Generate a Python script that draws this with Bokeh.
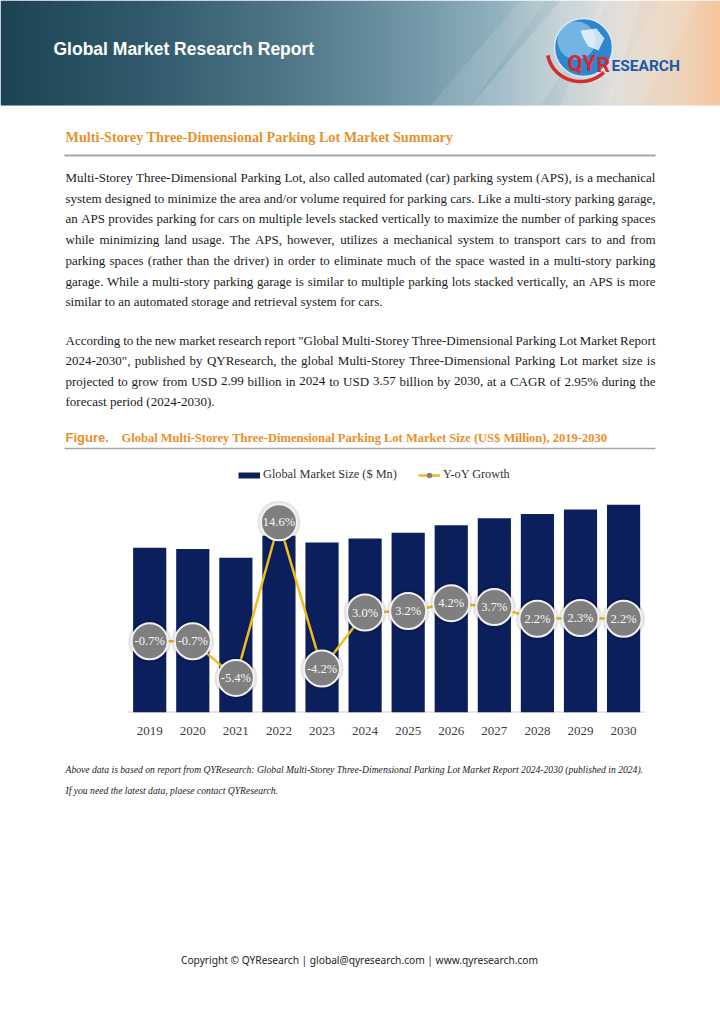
import numpy as np
from bokeh.plotting import figure
from bokeh.models import Range1d, ColumnDataSource, Legend, LegendItem, FixedTicker
from bokeh.layouts import column
from bokeh.core.properties import value
from bokeh.embed import file_html
from bokeh.resources import INLINE

# ---------------- data ----------------
years = ["2019", "2020", "2021", "2022", "2023", "2024",
         "2025", "2026", "2027", "2028", "2029", "2030"]
market_size = [2830, 2810, 2660, 3040, 2920, 2990, 3090, 3220, 3340, 3410, 3490, 3570]
yoy_growth = [-0.7, -0.7, -5.4, 14.6, -4.2, 3.0, 3.2, 4.2, 3.7, 2.2, 2.3, 2.2]
growth_labels = ["-0.7%", "-0.7%", "-5.4%", "14.6%", "-4.2%", "3.0%",
                 "3.2%", "4.2%", "3.7%", "2.2%", "2.3%", "2.2%"]
legend_labels = ["Global Market Size ($ Mn)", "Y-oY Growth"]

header_title = "Global Market Research Report"
section_title = "Multi-Storey Three-Dimensional Parking Lot Market Summary"
para1 = [
    "Multi-Storey Three-Dimensional Parking Lot, also called automated (car) parking system (APS), is a mechanical",
    "system designed to minimize the area and/or volume required for parking cars. Like a multi-story parking garage,",
    "an APS provides parking for cars on multiple levels stacked vertically to maximize the number of parking spaces",
    "while minimizing land usage. The APS, however, utilizes a mechanical system to transport cars to and from",
    "parking spaces (rather than the driver) in order to eliminate much of the space wasted in a multi-story parking",
    "garage. While a multi-story parking garage is similar to multiple parking lots stacked vertically, an APS is more",
    "similar to an automated storage and retrieval system for cars.",
]
para2 = [
    "According to the new market research report \"Global Multi-Storey Three-Dimensional Parking Lot Market Report",
    "2024-2030\", published by QYResearch, the global Multi-Storey Three-Dimensional Parking Lot market size is",
    "projected to grow from USD 2.99 billion in 2024 to USD 3.57 billion by 2030, at a CAGR of 2.95% during the",
    "forecast period (2024-2030).",
]
figure_label = "Figure."
figure_caption = "Global Multi-Storey Three-Dimensional Parking Lot Market Size (US$ Million), 2019-2030"
notes = [
    "Above data is based on report from QYResearch: Global Multi-Storey Three-Dimensional Parking Lot Market Report 2024-2030 (published in 2024).",
    "If you need the latest data, plaese contact QYResearch.",
]
copyright_text = "Copyright \u00a9 QYResearch | global@qyresearch.com | www.qyresearch.com"

# ---------------- styling ----------------
NAVY = "#0b1f5c"
GOLD = "#F2BC1B"
GRAY = "#7f7f7f"
ORANGE = "#E8902C"
TEXT = "#1a1a1a"
SERIF = "Liberation Serif"
PW = 720

# Times-Roman advance widths (1/1000 em) for justification
_TW = {' ': 250, '!': 333, '"': 408, '#': 500, '$': 500, '%': 833, '&': 778, "'": 333,
       '(': 333, ')': 333, '*': 500, '+': 564, ',': 250, '-': 333, '.': 250, '/': 278,
       ':': 278, ';': 278, '?': 444, '@': 921,
       'A': 722, 'B': 667, 'C': 667, 'D': 722, 'E': 611, 'F': 556, 'G': 722, 'H': 722,
       'I': 333, 'J': 389, 'K': 722, 'L': 611, 'M': 889, 'N': 722, 'O': 722, 'P': 556,
       'Q': 722, 'R': 667, 'S': 556, 'T': 611, 'U': 722, 'V': 722, 'W': 944, 'X': 722,
       'Y': 722, 'Z': 611,
       'a': 444, 'b': 500, 'c': 444, 'd': 500, 'e': 444, 'f': 333, 'g': 500, 'h': 500,
       'i': 278, 'j': 278, 'k': 500, 'l': 278, 'm': 778, 'n': 500, 'o': 500, 'p': 500,
       'q': 500, 'r': 333, 's': 389, 't': 278, 'u': 500, 'v': 500, 'w': 722, 'x': 500,
       'y': 500, 'z': 444}


def tw(s):
    return sum(_TW.get(ch, 500) for ch in s) / 1000.0


def page_fig(h, top, bottom):
    p = figure(width=PW, height=h, x_range=Range1d(0, PW), y_range=Range1d(bottom, top),
               x_axis_type=None, y_axis_type=None, toolbar_location=None,
               output_backend="svg", min_border=0)
    p.outline_line_color = None
    p.background_fill_color = "white"
    p.border_fill_color = "white"
    return p


def txt(p, x, y, t, font, size, color, style="normal", align="left"):
    p.text(x=[x], y=[y], text=[t], text_font=value(font), text_font_size=f"{size}px",
           text_color=color, text_font_style=style, text_align=align,
           text_baseline="middle")


def justified(p, lines, y0, step, left=65, right=655, fs=13):
    xs, ys, ts = [], [], []
    for i, line in enumerate(lines):
        words = line.split(" ")
        widths = [tw(w) * fs for w in words]
        last = (i == len(lines) - 1)
        if last or len(words) < 2:
            gap = 0.25 * fs
        else:
            gap = (right - left - sum(widths)) / (len(words) - 1)
        x = left
        for w, wd in zip(words, widths):
            xs.append(x)
            ys.append(y0 + i * step)
            ts.append(w)
            x += wd + gap
    p.text(x=xs, y=ys, text=ts, text_font=value(SERIF), text_font_size=f"{fs}px",
           text_color=TEXT, text_baseline="middle", text_align="left")


# ---------------- top part (header + summary) ----------------
top = page_fig(460, 0, 460)

# banner gradient
stops_x = [0, 150, 300, 420, 500, 560, 620, 680, 720]
stops_c = ["#1c4353", "#315b6d", "#52798a", "#7499a9", "#93b2c0", "#bccbd1",
           "#e0dcd6", "#efd3ba", "#f5c59d"]
rgb = np.array([[int(c[i:i + 2], 16) for i in (1, 3, 5)] for c in stops_c], dtype=float)
edges = np.arange(0, PW + 1, 4)
lefts, rights, cols = [], [], []
for a in edges[:-1]:
    xm = a + 2
    col = [np.interp(xm, stops_x, rgb[:, k]) for k in range(3)]
    lefts.append(a)
    rights.append(a + 4.5)
    cols.append("#%02x%02x%02x" % tuple(int(round(v)) for v in col))
top.quad(left=lefts, right=rights, top=[0] * len(lefts), bottom=[105] * len(lefts),
         fill_color=cols, line_color=None)
# diagonal light streaks
top.patches(xs=[[430, 520, 545, 470], [470, 560, 610, 540], [560, 600, 640, 610],
                [600, 660, 700, 640]],
            ys=[[105, 0, 0, 105], [105, 0, 0, 105], [105, 0, 0, 105], [105, 0, 0, 105]],
            fill_color="white", fill_alpha=[0.10, 0.16, 0.12, 0.10], line_color=None)
txt(top, 53, 48, header_title, "Liberation Sans", 17.5, "white", "bold")

# logo
t = np.linspace(np.pi * 0.95, np.pi * 0.25, 40)
top.line(x=580 + 33 * np.cos(t), y=50 + 31 * np.sin(t), line_color="#d42b2b", line_width=3.5)
top.circle(x=[583], y=[47], radius=29, fill_color="#2f86cf", line_color="#d7ecf8",
           line_width=1.5)
top.circle(x=[576], y=[40], radius=19, fill_color="#a9daf5", fill_alpha=0.55, line_color=None)
top.patches(xs=[[580, 596, 604, 598, 588, 583]], ys=[[30, 28, 38, 50, 46, 38]],
            fill_color="white", fill_alpha=0.75, line_color=None)
txt(top, 567, 63, "QY", "Roboto", 22, "#d7282f", "bold")
txt(top, 596, 64, "R", "Roboto", 21, "#d7282f", "bold")
txt(top, 611, 65, "ESEARCH", "Roboto", 15.5, "#1a5aa6", "bold")

# section title
txt(top, 65, 136, section_title, SERIF, 14.2, ORANGE, "bold")
top.segment(x0=[64], y0=[155], x1=[655], y1=[155], line_color="#a6a6a6", line_width=2)

justified(top, para1, 177, 20.7)
justified(top, para2, 339.5, 20.5)

txt(top, 65, 437, figure_label, "Liberation Sans", 13, ORANGE, "bold")
txt(top, 121, 437, figure_caption, SERIF, 12.5, ORANGE, "bold")
top.segment(x0=[64], y0=[448], x1=[655], y1=[448], line_color="#a6a6a6", line_width=1.5)

# ---------------- chart ----------------
xpos = [i + 0.5 for i in range(len(years))]
src = ColumnDataSource(dict(x=xpos, year=years, size=market_size, growth=yoy_growth,
                            label=growth_labels))
pitch = 43.08
cat_left = 127.66
c = figure(width=PW, height=285,
           x_range=Range1d(-cat_left / pitch, len(years) + (PW - cat_left - len(years) * pitch) / pitch),
           y_range=Range1d(0, 4297),
           y_axis_type=None, toolbar_location=None, output_backend="svg",
           min_border_left=0, min_border_right=0, min_border_top=2,
           min_border_bottom=33)
c.extra_y_ranges = {"g": Range1d(-9.84, 22.27)}
c.outline_line_color = None
c.xgrid.visible = False
c.background_fill_color = "white"
c.border_fill_color = "white"

c.segment(x0=[0], y0=[0], x1=[len(years)], y1=[0], line_color="#d0d0d0", line_width=2)
c.vbar(x="x", top="size", width=0.77, source=src, fill_color=NAVY, line_color=None)
c.line(x="x", y="growth", source=src, y_range_name="g", line_color=GOLD, line_width=2.5)
c.scatter(x="x", y="growth", source=src, y_range_name="g", size=43,
          fill_color="#000000", fill_alpha=0.10, line_color=None)
c.scatter(x="x", y="growth", source=src, y_range_name="g", size=36,
          fill_color=GRAY, line_color="#f2f2f2", line_width=2)
c.text(x="x", y="growth", text="label", source=src, y_range_name="g",
       text_align="center", text_baseline="middle", text_color="#f7f7f7",
       text_font=value(SERIF), text_font_size="12.5px")

xa = c.xaxis[0]
xa.ticker = FixedTicker(ticks=xpos)
xa.major_label_overrides = {p: y for p, y in zip(xpos, years)}
xa.axis_line_color = None
xa.major_tick_line_color = None
xa.minor_tick_line_color = None
xa.major_label_standoff = 8
xa.major_label_text_font = SERIF
xa.major_label_text_font_size = "13px"
xa.major_label_text_color = "#404040"

nan = float("nan")
leg_bar = c.line(x=[0.5, 1.5], y=[nan, nan], line_color=NAVY, line_width=6)
leg_line = c.line(x=[0.5, 1.5], y=[nan, nan], line_color=GOLD, line_width=2.5)
leg_dot = c.scatter(x=[0.5], y=[nan], size=6, fill_color=GRAY, line_color=None)
legend = Legend(items=[LegendItem(label=legend_labels[0], renderers=[leg_bar]),
                       LegendItem(label=legend_labels[1], renderers=[leg_line, leg_dot])],
                orientation="horizontal", location=(238, 230),
                glyph_width=22, glyph_height=14, label_height=14, label_standoff=3,
                spacing=21, padding=0, margin=0, border_line_color=None,
                background_fill_alpha=0, label_text_font=SERIF,
                label_text_font_size="12.3px", label_text_color="#333333")
c.add_layout(legend)

# ---------------- bottom part ----------------
bot = page_fig(273, 745, 1018)
note_fs = 580.0 / tw(notes[0])
txt(bot, 65, 769, notes[0], SERIF, round(note_fs, 2), TEXT, "italic")
txt(bot, 65, 790, notes[1], SERIF, round(note_fs, 2), TEXT, "italic")
txt(bot, 359, 959, copyright_text, "Noto Sans", 10.2, "#222222", align="center")

page = column(top, c, bot, spacing=0)
open("out.html", "w").write(file_html(page, INLINE))
